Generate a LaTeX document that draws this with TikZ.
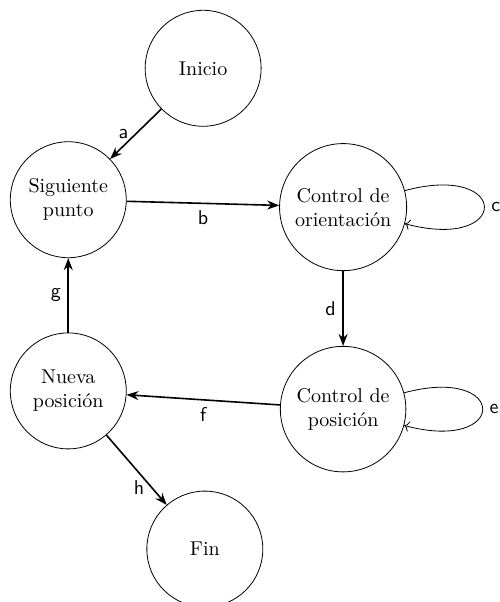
\documentclass[tikz,border=0pt]{standalone}
\usepackage{tikz}
\usetikzlibrary{arrows.meta, positioning}
\tikzset{
  estado/.style={circle, draw=black, thin, minimum size=58pt,
                 inner sep=4.5pt, align=center, font=\normalsize},
  flecha/.style={-{Stealth[length=6pt]}, thick},
  lazo/.style={->, thin},
  etiq/.style={font=\sffamily},
}

\begin{document}
\begin{tikzpicture}
  \useasboundingbox (0,0) rectangle (8.77,-10.58);
  % estados
  \node[estado] (inicio) at(3.57,-1.20) {Inicio};
  \node[estado] (sig)    at(1.20,-3.51) {Siguiente\\punto};
  \node[estado] (orient) at(6.03,-3.64) {Control de\\orientación};
  \node[estado] (posic)  at(6.03,-7.19) {Control de\\posición};
  \node[estado] (nueva)  at(1.20,-6.87) {Nueva\\posición};
  \node[estado] (fin)    at(3.60,-9.65) {Fin};
  % transiciones
  \draw[flecha] (inicio) -- node[etiq,left] {a} (sig);
  \draw[flecha] (sig) -- node[etiq,below] {b} (orient);
  \draw[lazo] (orient) to[loop right,looseness=8.5] node[etiq,right] {c} (orient);
  \draw[flecha] (orient) -- node[etiq,left] {d} (posic);
  \draw[lazo] (posic) to[loop right,looseness=8.5] node[etiq,right] {e} (posic);
  \draw[flecha] (posic) -- node[etiq,below] {f} (nueva);
  \draw[flecha] (nueva) -- node[etiq,left] {g} (sig);
  \draw[flecha] (nueva) -- node[etiq,left,pos=0.75] {h} (fin);
\end{tikzpicture}
\end{document}
